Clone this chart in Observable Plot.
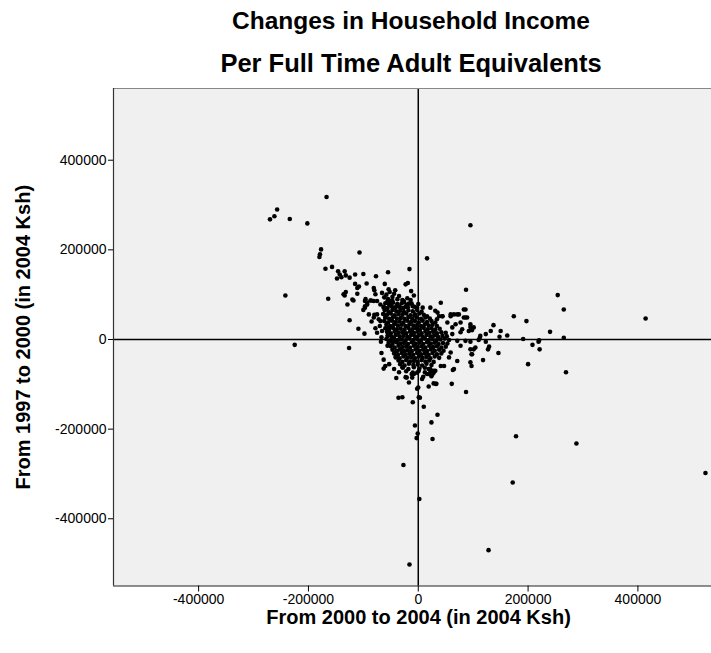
<!DOCTYPE html>
<html><head><meta charset="utf-8">
<script src="https://cdn.jsdelivr.net/npm/d3@7"></script>
<script src="https://cdn.jsdelivr.net/npm/@observablehq/plot@0.6"></script>
<style>
body{margin:0;background:#fff;font-family:"Liberation Sans",Arial,sans-serif}
#wrap{position:relative;width:711px;height:653px;overflow:hidden}
.t{position:absolute;left:0;width:822px;text-align:center;font-weight:bold;line-height:26px;color:#000;white-space:nowrap}
</style></head><body>
<div id="wrap">
<div class="t" style="top:8px;font-size:24.5px">Changes in Household Income</div>
<div class="t" style="top:50px;font-size:25.5px">Per Full Time Adult Equivalents</div>
<div id="chart" style="position:absolute;top:80px;left:0"></div>
</div>
<script>
// values in thousands of 2004 Ksh: [change 2000→2004, change 1997→2000]
const outerPoints = [
[-167,318],[-257,290],[-262,275],[-270,268],[-234,269],[-202,259],[-177,201],[-179,190],[-180,184],[-107,194],[-169,158],[-157,162],[-146,152],[-143,145],[-148,136],[-140,139],[-134,152],[-132,143],[-125,138],[-115,145],[-100,146],[-77,141],[-55,150],[-16,157],[-23,123],[-19,126],[-13,108],[-61,124],[-54,112],[-94,125],[-115,124],[-111,115],[-108,118],[-111,102],[-136,101],[-132,106],[-134,98],[-120,89],[-118,87],[-129,78],[-81,115],[-80,110],[-78,101],[-164,91],[-242,98],[-125,43],[-109,24],[-98,13],[-225,-12],[-126,-19],
[16,181],[87,111],[41,82],[86,67],[65,56],[74,56],[83,49],[89,49],[35,60],[38,52],[44,52],[59,52],[174,52],[197,41],[137,32],[132,19],[123,12],[95,28],[98,21],[150,19],[148,6],[162,9],[113,8],[112,4],[191,1],[208,-12],[220,-2],[221,-22],[104,-18],[101,-22],[129,-16],[127,-22],[146,-30],[97,-33],[95,-51],[97,-59],[118,-46],[200,-55],[63,-68],[41,-59],[28,-70],[26,-77],[16,-77],[32,-99],[28,-98],[61,-99],[87,-117],[-2,-110],[1,-129],[254,99],[265,67],[414,47],[240,17],[265,4],[110,-1],[123,-5],[219,-5],[269,-73],
[-63,-65],[-40,-86],[-21,-85],[-12,-77],[-36,-130],[-29,-129],[0,-107],[19,-105],
[-17,-96],[-11,-85],[-8,-77],[-2,-74],[9,-83],[19,-77],[24,-82],[28,-74],[33,-99],[-10,-140],[3,-130],[10,-150],[35,-168],[24,-185],[-6,-192],[-1,-210],[-3,-220],[26,-222],[-27,-280],
[172,-319],[523,-298],[2,-356],[128,-470],[-16,-502],[178,-216],[288,-232],[95,255],[-67,5]
];
const fringePoints = [
[16,52],[31,64],[34,45],[44,52],[59,56],[71,56],[83,67],[86,49],[77,38],[95,34],[68,34],[53,38],[62,27],[80,23],[92,19],[101,27],
[62,12],[71,-3],[77,-14],[86,-3],[95,-22],[59,-29],[56,-40],[71,-48],[65,-66],[47,-59],[31,-70],[19,-66],[98,-33],[77,16],[95,-5],
[-44,-66],[-53,-55],[-60,-59],[-35,-73],[-23,-84],[22,-73],[7,-88],[-29,-62],
[-70,30],[-75,15],[-68,-5],[-72,45],[-80,55],[-85,40],[-78,25],[-67,-30],[-63,-45],
[-96,90],[-93,82],[-97,74],[-100,66],[-87,87],[-81,86],[-97,86],[-93,78],[-86,87],[-75,86],[-69,78],[-63,71],[-56,86],[-47,86],[-44,71],[-38,78],[-32,71],[-27,86],[-23,73],[-7,73],[-6,54],[-97,71],[-90,56],[-81,49],[-75,56],[-69,41],[-60,49],[-54,26],[-56,8],[-44,-3],[-38,-25],[-41,-40],[-56,-14],[-66,19],
[-58,100],[-52,106],[-47,95],[-44,102],[-38,90],[-35,97],[-29,88],[-26,84],[-20,92],[-17,80],[-14,88],[-8,98],[-55,90],[-50,86],[-62,94],[-66,104],[-42,110],[0,79],[8,71],[22,71]
];
const corePoints = [
[-60,81],[-53,78],[-46,82],[-38,79],[-30,81],[-21,78],[-12,80],
[-63,73],[-56,70],[-49,74],[-42,71],[-35,73],[-27,70],[-19,72],[-10,74],[-2,71],
[-61,65],[-54,62],[-47,66],[-40,63],[-33,64],[-26,61],[-18,65],[-10,63],[-2,66],[6,62],
[-64,57],[-57,55],[-50,58],[-43,54],[-36,57],[-29,55],[-22,58],[-14,54],[-6,56],[2,58],[10,55],
[-60,49],[-53,46],[-46,50],[-39,47],[-32,48],[-25,46],[-18,50],[-11,47],[-3,49],[5,46],[13,49],[21,47],
[-62,41],[-55,38],[-48,42],[-41,39],[-34,40],[-27,38],[-20,42],[-13,39],[-6,41],[1,38],[8,42],[16,39],[24,41],[31,38],
[-58,33],[-51,30],[-44,34],[-37,31],[-30,33],[-23,30],[-16,34],[-9,31],[-2,32],[5,30],[12,34],[19,31],[26,33],[34,30],
[-60,25],[-53,22],[-46,26],[-39,23],[-32,24],[-25,22],[-18,26],[-11,23],[-4,25],[3,22],[10,26],[17,23],[24,25],[31,22],[39,24],
[-57,17],[-50,14],[-43,18],[-36,15],[-29,16],[-22,14],[-15,18],[-8,15],[-1,17],[6,14],[13,18],[20,15],[27,17],[34,14],[42,16],[50,15],
[-55,9],[-48,6],[-41,10],[-34,7],[-27,8],[-20,6],[-13,10],[-6,7],[1,9],[8,6],[15,10],[22,7],[29,9],[36,6],[44,8],[52,7],
[-58,1],[-51,-2],[-44,2],[-37,-1],[-30,0],[-23,-2],[-16,2],[-9,-1],[-2,1],[5,-2],[12,2],[19,-1],[26,1],[33,-2],[40,0],[48,2],[56,-1],
[-54,-7],[-47,-10],[-40,-6],[-33,-9],[-26,-8],[-19,-10],[-12,-6],[-5,-9],[2,-7],[9,-10],[16,-6],[23,-9],[30,-7],[37,-10],[45,-8],[53,-9],
[-50,-15],[-43,-18],[-36,-14],[-29,-17],[-22,-16],[-15,-18],[-8,-14],[-1,-17],[6,-15],[13,-18],[20,-14],[27,-17],[34,-15],[42,-18],[50,-16],
[-47,-23],[-40,-26],[-33,-22],[-26,-25],[-19,-24],[-12,-26],[-5,-22],[2,-25],[9,-23],[16,-26],[23,-22],[30,-25],[38,-23],[46,-25],
[-44,-31],[-37,-34],[-30,-30],[-23,-33],[-16,-32],[-9,-34],[-2,-30],[5,-33],[12,-31],[19,-34],[26,-30],[34,-33],[42,-31],
[-41,-39],[-34,-42],[-27,-38],[-20,-41],[-13,-40],[-6,-42],[1,-38],[8,-41],[15,-39],[22,-42],[30,-38],[38,-41],
[-36,-47],[-29,-50],[-22,-46],[-15,-49],[-8,-48],[-1,-50],[6,-46],[13,-49],[20,-47],[28,-50],
[-33,-55],[-25,-58],[-17,-54],[-9,-57],[-1,-56],[7,-58],[15,-54],[24,-57],
[-28,-63],[-18,-66],[-8,-62],[2,-65],[12,-63],[22,-66],
[-22,-71],[-10,-74],[1,-70],[12,-73]
];
const xTicks = [-400000, -200000, 0, 200000, 400000];
const yTicks = [-400000, -200000, 0, 200000, 400000];
const xTitle = "From 2000 to 2004 (in 2004 Ksh)";
const yTitle = "From 1997 to 2000 (in 2004 Ksh)";

const data = [...outerPoints, ...fringePoints, ...corePoints].map(([a, b]) => ({dx: a * 1000, dy: b * 1000}));

const yTop = 560000, yBottom = -550000, xLeft = -555000;

const chart = Plot.plot({
  width: 711, height: 573,
  marginTop: 8, marginBottom: 67.5, marginLeft: 113, marginRight: 0,
  style: {fontFamily: "'Liberation Sans', Arial, sans-serif", fontSize: "14px", background: "transparent", color: "#000"},
  x: {domain: [xLeft, 534000], label: null},
  y: {domain: [yBottom, yTop], label: null},
  marks: [
    Plot.frame({fill: "#f0f0f0", stroke: "none"}),
    Plot.ruleY([0], {stroke: "#000", strokeWidth: 1.5}),
    Plot.ruleX([0], {stroke: "#000", strokeWidth: 1.5}),
    Plot.dot(data, {x: "dx", y: "dy", r: 2.3, fill: "#000", stroke: "none"}),
    Plot.ruleY([yTop], {stroke: "#888", strokeWidth: 1.2}),
    Plot.ruleX([xLeft], {stroke: "#333", strokeWidth: 1.2}),
    Plot.ruleY([yBottom], {stroke: "#222", strokeWidth: 1.2}),
    Plot.axisX(xTicks, {tickSize: 6, tickPadding: 2, tickFormat: d => String(d), label: null, fontSize: 14, stroke: "#000"}),
    Plot.axisY(yTicks, {tickSize: 5, tickPadding: 2, tickFormat: d => String(d), label: null, fontSize: 14, stroke: "#000"}),
    Plot.text([xTitle], {frameAnchor: "bottom", textAnchor: "middle", lineAnchor: "middle", dx: 6, dy: 32, fontWeight: "bold", fontSize: 20, fill: "#000"}),
    Plot.text([yTitle], {frameAnchor: "left", textAnchor: "middle", lineAnchor: "middle", dx: -90, rotate: -90, fontWeight: "bold", fontSize: 20, fill: "#000"})
  ]
});
document.getElementById("chart").appendChild(chart);
</script>
</body></html>
